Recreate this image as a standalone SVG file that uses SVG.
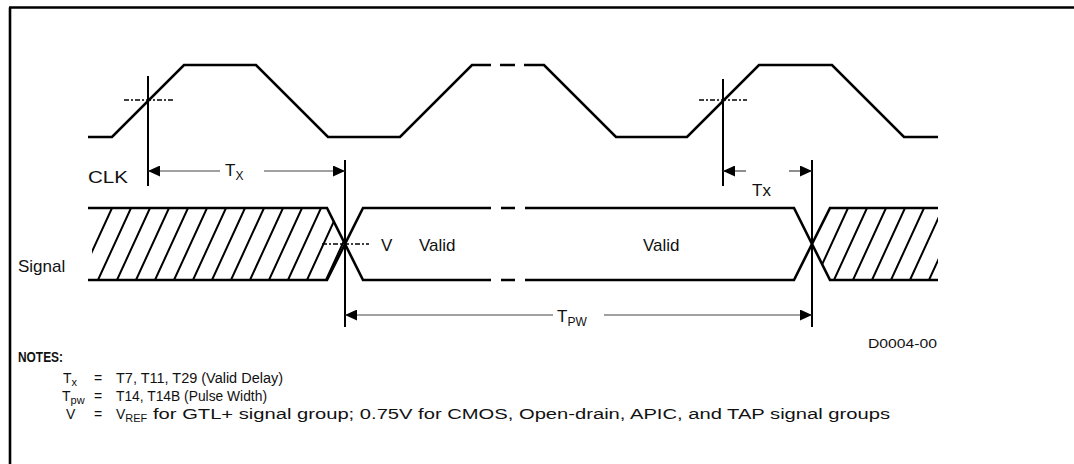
<svg xmlns="http://www.w3.org/2000/svg" width="1074" height="464" viewBox="0 0 1074 464">
<style>
.wave{fill:none;stroke:#000;stroke-width:2.6;stroke-linejoin:miter}
.vline{stroke:#000;stroke-width:2;fill:none}
.dim{stroke:#444;stroke-width:1.2;fill:none}
.ref{stroke:#000;stroke-width:1.6;stroke-dasharray:5 2 2 2;fill:none}
.hatch{stroke:#000;stroke-width:2;fill:none}
.lbl{font-family:"Liberation Sans",Arial,sans-serif;font-size:17px;fill:#111}
.sub{font-family:"Liberation Sans",Arial,sans-serif;font-size:12px;fill:#111}
.note{font-family:"Liberation Sans",Arial,sans-serif;font-size:14px;fill:#111}
.nsub{font-family:"Liberation Sans",Arial,sans-serif;font-size:11px;fill:#111}
.frame{stroke:#000;stroke-width:2.6;fill:none}
</style>
<defs>
<marker id="ah" markerUnits="userSpaceOnUse" markerWidth="12" markerHeight="11" refX="12" refY="5.5" orient="auto-start-reverse">
<path d="M0,0 L12,5.5 L0,11 Z" fill="#000"/>
</marker>
<clipPath id="clipL"><polygon points="92,208 327,208 345,244 327,280 92,280"/></clipPath>
<clipPath id="clipR"><polygon points="812,244 830,208 938,208 938,280 830,280"/></clipPath>
</defs>

<g id="frame">
<path class="frame" d="M9,7.5 H1074 M10,7.5 V464"/>
</g>

<g id="clk">
<path class="wave" d="M88,137 H112 L184,65 H256 L328,137 H400 L472,65 H491 M500,65 H515 M524,65 H544 L616,137 H687 L759,65 H832 L904,137 H938"/>
<text class="lbl" x="88" y="183" textLength="40" lengthAdjust="spacingAndGlyphs">CLK</text>
</g>

<g id="signal">
<g clip-path="url(#clipL)">
<path class="hatch" d="M112,208 L79,280 M131,208 L98,280 M150,208 L117,280 M169,208 L136,280 M188,208 L155,280 M207,208 L174,280 M226,208 L193,280 M245,208 L212,280 M264,208 L231,280 M283,208 L250,280 M302,208 L269,280 M321,208 L288,280 M340,208 L307,280 M359,208 L326,280 M378,208 L345,280"/>
</g>
<g clip-path="url(#clipR)">
<path class="hatch" d="M848,208 L815,280 M867,208 L834,280 M886,208 L853,280 M905,208 L872,280 M924,208 L891,280 M943,208 L910,280 M962,208 L929,280 M981,208 L948,280"/>
</g>
<path class="wave" d="M88,208 H327 L363,280 H491 M501,280 H515 M525,280 H794 L830,208 H938"/>
<path class="wave" d="M88,280 H327 L363,208 H491 M501,208 H515 M525,208 H794 L830,280 H938"/>
<text class="lbl" x="18" y="272">Signal</text>
<text class="lbl" x="381" y="251">V</text>
<text class="lbl" x="419" y="251">Valid</text>
<text class="lbl" x="643" y="251">Valid</text>
</g>

<g id="connectors">
<line class="vline" x1="148" y1="76" x2="148" y2="186"/>
<line class="vline" x1="723" y1="79" x2="723" y2="186"/>
<line class="vline" x1="345" y1="160" x2="345" y2="327"/>
<line class="vline" x1="812" y1="160" x2="812" y2="327"/>
<line class="ref" x1="124" y1="100" x2="173" y2="100"/>
<line class="ref" x1="699" y1="100" x2="747" y2="100"/>
<line class="ref" x1="322" y1="244" x2="369" y2="244"/>
<path class="dim" d="M220,171 H148" marker-end="url(#ah)"/>
<path class="dim" d="M264,171 H345" marker-end="url(#ah)"/>
<path class="dim" d="M746,171 H723" marker-end="url(#ah)"/>
<path class="dim" d="M789,171 H812" marker-end="url(#ah)"/>
<path class="dim" d="M553,315 H345" marker-end="url(#ah)"/>
<path class="dim" d="M604,315 H812" marker-end="url(#ah)"/>
</g>

<g id="labels">
<text class="lbl" x="225" y="176">T<tspan class="sub" dy="4">X</tspan></text>
<text class="lbl" x="752" y="196">Tx</text>
<text class="lbl" x="557" y="322">T<tspan class="sub" dy="4">PW</tspan></text>
<text class="sub" x="868" y="348" textLength="69" lengthAdjust="spacingAndGlyphs">D0004-00</text>
</g>

<g id="notes">
<text class="note" x="18" y="362" font-weight="bold" textLength="45" lengthAdjust="spacingAndGlyphs">NOTES:</text>
<text class="note" x="63" y="383">T<tspan class="nsub" dy="3">x</tspan></text>
<text class="note" x="94" y="383">=</text>
<text class="note" x="116" y="383" textLength="167" lengthAdjust="spacingAndGlyphs">T7, T11, T29 (Valid Delay)</text>
<text class="note" x="62" y="401">T<tspan class="nsub" dy="3">pw</tspan></text>
<text class="note" x="94" y="401">=</text>
<text class="note" x="116" y="401" textLength="151" lengthAdjust="spacingAndGlyphs">T14, T14B (Pulse Width)</text>
<text class="note" x="66" y="419">V</text>
<text class="note" x="94" y="419">=</text>
<text class="note" x="116" y="419">V<tspan class="nsub" dy="3">REF</tspan></text>
<text class="note" x="153" y="419" textLength="737" lengthAdjust="spacingAndGlyphs">for GTL+ signal group; 0.75V for CMOS, Open-drain, APIC, and TAP signal groups</text>
</g>
</svg>
